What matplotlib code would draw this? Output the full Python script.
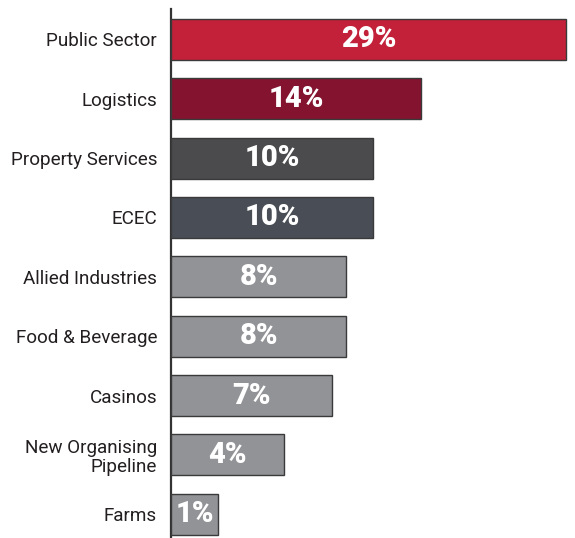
import numpy as np
import matplotlib
matplotlib.use('Agg')
import matplotlib.pyplot as plt

# sectors and their share of members
sectors = ['Public Sector', 'Logistics', 'Property Services', 'ECEC',
           'Allied Industries', 'Food & Beverage', 'Casinos',
           'New Organising\nPipeline', 'Farms']
shares = [29, 14, 10, 10, 8, 8, 7, 4, 1]
bar_colors = ['#c32039', '#84132f', '#4b4b4d', '#494d55',
              '#929397', '#929397', '#929397', '#929397', '#929397']

# bars are stretched with a power scale so the small ones stay readable
power = 0.63


def fwd(v):
    return np.sign(v) * np.abs(v) ** power


def inv(v):
    return np.sign(v) * np.abs(v) ** (1 / power)


fig = plt.figure(figsize=(5.75, 5.38), dpi=100)
ax = fig.add_axes([171 / 575, 0, 1 - 171 / 575, 1 - 9 / 538])

ypos = np.arange(len(sectors))
ax.barh(ypos, shares, height=0.69, color=bar_colors,
        edgecolor='#3a3a3a', linewidth=1.0, zorder=3)

ax.set_xscale('function', functions=(fwd, inv))
ax.set_xlim(0, 30.06)
ax.set_ylim(8.40, -0.51)

# value labels in the middle of each bar
for y, v in zip(ypos, shares):
    ax.text(inv(fwd(v) / 2), y, f'{v}%', ha='center', va='center',
            color='white', fontsize=21, fontweight='black',
            family=['Roboto', 'DejaVu Sans'], zorder=4)

ax.set_yticks(ypos)
ax.set_yticklabels(sectors, fontsize=13.6, color='#231f20',
                   family=['Roboto', 'DejaVu Sans'], linespacing=1.1)
ax.tick_params(axis='y', length=0, pad=10)
ax.set_xticks([])
ax.minorticks_off()

for s in ['top', 'right', 'bottom']:
    ax.spines[s].set_visible(False)
ax.spines['left'].set_color('#333333')
ax.spines['left'].set_linewidth(1.6)

fig.savefig('out.png', dpi=100)
